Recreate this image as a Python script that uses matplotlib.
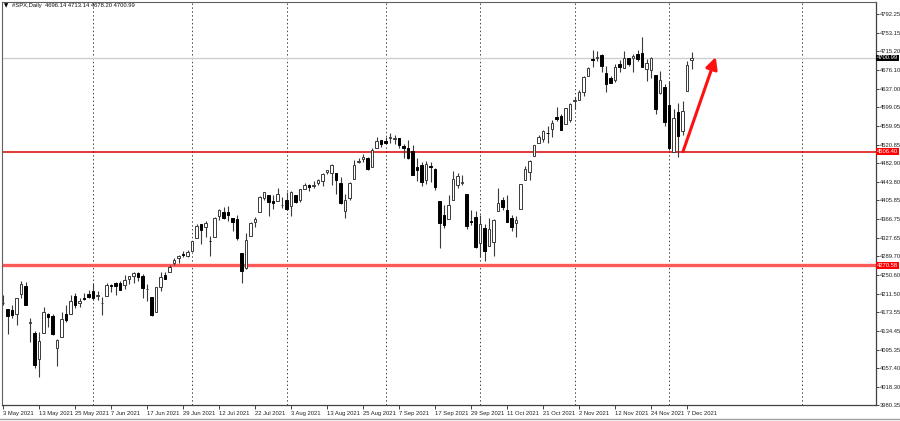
import matplotlib
matplotlib.use("Agg")
import matplotlib.pyplot as plt
import numpy as np
import pandas as pd

plt.rcParams['font.family'] = ['Liberation Sans', 'DejaVu Sans']

# ---------------- data ----------------
holidays = ["2021-05-31", "2021-07-05", "2021-09-06", "2021-11-25"]
dates = [d for d in pd.bdate_range("2021-05-03", "2021-12-08") if d.strftime("%Y-%m-%d") not in holidays]

opens = [4191.98, 4179.04, 4177.06, 4169.14, 4210.34, 4228.29, 4150.34, 4130.55, 4074.99, 4129.58,
         4169.92, 4165.94, 4098.45, 4121.97, 4168.61, 4170.16, 4205.94, 4191.59, 4201.94, 4210.77,
         4216.52, 4206.82, 4191.43, 4206.05, 4229.34, 4233.81, 4232.99, 4228.56, 4242.90, 4248.31,
         4255.28, 4248.87, 4220.37, 4204.78, 4173.40, 4224.61, 4249.27, 4256.97, 4274.45, 4284.90,
         4293.21, 4290.65,
         4300.73, 4326.60, 4356.46, 4351.01, 4321.07, 4329.38, 4372.41, 4381.07, 4380.11, 4369.02,
         4367.43, 4296.40, 4265.11, 4331.13, 4361.27, 4381.20, 4409.58, 4416.38, 4402.95, 4403.59,
         4395.12,
         4406.86, 4392.74, 4415.95, 4405.89, 4429.07, 4437.77, 4435.79, 4442.18, 4446.08, 4464.84,
         4461.65, 4462.12, 4440.94, 4382.44, 4410.56, 4450.29, 4484.40, 4490.45, 4493.75, 4474.10,
         4513.76, 4529.75,
         4528.80, 4534.48, 4532.42, 4535.38, 4518.09, 4513.02, 4506.92, 4474.81, 4479.33, 4447.49,
         4477.09, 4469.74, 4402.95, 4374.45, 4367.43, 4406.75, 4438.04, 4442.12, 4419.54, 4362.41,
         4370.67,
         4317.16, 4348.84, 4309.87, 4319.57, 4383.73, 4406.51, 4385.44, 4368.31, 4358.01, 4386.75,
         4447.69, 4463.72, 4497.34, 4524.42, 4532.24, 4546.12, 4553.69, 4578.69, 4580.22, 4562.84,
         4572.87,
         4610.62, 4613.34, 4630.65, 4662.93, 4699.26, 4701.48, 4707.25, 4670.26, 4659.39, 4655.24,
         4689.30, 4679.42, 4701.50, 4700.72, 4708.44, 4712.00, 4678.48, 4675.78, 4664.63, 4628.75,
         4640.25,
         4602.82, 4504.73, 4589.49, 4548.37, 4631.97, 4696.14]

highs = [4209.39, 4179.04, 4187.72, 4202.70, 4238.04, 4236.39, 4162.04, 4134.73, 4131.58, 4183.13,
         4171.92, 4169.15, 4116.93, 4172.80, 4188.72, 4209.52, 4213.42, 4202.61, 4213.38, 4218.36,
         4234.12, 4217.37, 4204.39, 4233.45, 4232.34, 4236.74, 4237.09, 4249.74, 4248.38, 4255.59,
         4257.16, 4251.89, 4232.29, 4204.78, 4226.24, 4255.84, 4256.60, 4271.28, 4286.12, 4292.14,
         4300.52, 4302.43,
         4320.66, 4355.43, 4356.46, 4361.88, 4330.88, 4371.60, 4386.68, 4392.37, 4393.68, 4369.02,
         4375.09, 4296.40, 4336.84, 4359.70, 4369.87, 4415.18, 4422.73, 4416.38, 4415.47, 4429.97,
         4412.25,
         4422.18, 4423.79, 4416.17, 4429.76, 4440.82, 4439.39, 4445.21, 4449.44, 4461.77, 4468.37,
         4480.26, 4462.12, 4454.32, 4418.61, 4444.35, 4489.88, 4492.81, 4501.71, 4495.90, 4513.33,
         4537.36, 4531.39,
         4537.11, 4545.85, 4541.45, 4535.38, 4521.79, 4529.90, 4520.47, 4492.99, 4485.68, 4486.87,
         4485.87, 4471.52, 4402.95, 4394.87, 4416.75, 4465.40, 4463.12, 4457.30, 4419.54, 4385.57,
         4382.55,
         4375.19, 4355.51, 4369.23, 4365.57, 4429.97, 4412.02, 4415.88, 4374.89, 4372.87, 4439.73,
         4475.82, 4488.75, 4520.40, 4540.87, 4551.44, 4559.67, 4572.62, 4598.53, 4584.57, 4597.55,
         4608.08,
         4620.34, 4635.15, 4663.46, 4683.00, 4718.50, 4714.92, 4708.53, 4684.85, 4664.55, 4688.47,
         4697.42, 4714.95, 4701.50, 4708.80, 4717.75, 4743.83, 4699.39, 4702.87, 4664.63, 4672.95,
         4646.02,
         4652.94, 4595.46, 4608.03, 4612.60, 4694.04, 4713.14]

lows = [4188.03, 4128.59, 4160.94, 4147.33, 4201.64, 4188.13, 4111.53, 4056.88, 4038.00, 4129.58,
        4142.69, 4125.99, 4061.41, 4121.97, 4151.72, 4170.16, 4182.52, 4184.11, 4197.78, 4203.57,
        4197.59, 4198.27, 4167.93, 4206.05, 4215.66, 4208.41, 4218.74, 4220.34, 4232.25, 4234.07,
        4238.35, 4202.45, 4196.05, 4164.40, 4173.40, 4217.27, 4241.43, 4256.97, 4271.16, 4274.67,
        4287.04, 4287.96,
        4300.73, 4326.60, 4314.37, 4329.79, 4289.37, 4329.38, 4364.03, 4366.92, 4362.36, 4340.70,
        4322.53, 4233.13, 4262.05, 4331.13, 4350.06, 4381.20, 4405.45, 4372.51, 4387.01, 4403.59,
        4389.65,
        4384.81, 4373.00, 4400.23, 4401.60, 4429.07, 4424.74, 4430.03, 4436.42, 4435.96, 4460.82,
        4437.66, 4417.83, 4397.59, 4367.73, 4406.80, 4450.29, 4482.28, 4485.66, 4468.99, 4474.10,
        4513.76, 4515.80,
        4522.02, 4524.66, 4521.65, 4513.00, 4493.95, 4492.07, 4457.66, 4445.70, 4435.46, 4438.37,
        4443.80, 4427.76, 4305.91, 4347.96, 4367.43, 4406.75, 4430.27, 4436.19, 4346.33, 4355.08,
        4306.24,
        4288.52, 4278.94, 4309.87, 4290.49, 4383.73, 4386.22, 4360.59, 4342.09, 4329.92, 4386.75,
        4447.69, 4447.47, 4496.41, 4524.40, 4526.89, 4524.00, 4537.36, 4569.17, 4551.66, 4562.84,
        4567.59,
        4595.06, 4613.34, 4621.19, 4662.59, 4681.32, 4694.39, 4670.87, 4630.86, 4648.31, 4650.77,
        4672.86, 4679.42, 4684.41, 4672.78, 4694.22, 4682.17, 4652.66, 4659.89, 4585.43, 4625.26,
        4560.00,
        4510.27, 4504.73, 4495.12, 4540.51, 4631.97, 4678.20]

closes = [4192.66, 4164.66, 4167.59, 4201.62, 4232.60, 4188.43, 4152.10, 4063.04, 4112.50, 4173.85,
          4163.29, 4127.83, 4115.68, 4159.12, 4155.86, 4197.05, 4188.13, 4195.99, 4200.88, 4204.11,
          4202.04, 4208.12, 4192.85, 4229.89, 4226.52, 4227.26, 4219.55, 4239.18, 4247.44, 4255.15,
          4246.59, 4223.70, 4221.86, 4166.45, 4224.79, 4246.44, 4241.84, 4266.49, 4280.70, 4290.61,
          4291.80, 4297.50,
          4319.94, 4352.34, 4343.54, 4358.13, 4320.82, 4369.55, 4384.63, 4369.21, 4374.30, 4360.03,
          4327.16, 4258.49, 4323.06, 4358.69, 4367.48, 4411.79, 4422.30, 4401.46, 4400.64, 4419.15,
          4395.26,
          4387.16, 4423.15, 4402.66, 4429.10, 4436.52, 4432.35, 4436.75, 4447.70, 4460.83, 4468.00,
          4479.71, 4448.08, 4400.27, 4405.80, 4441.67, 4479.53, 4486.23, 4496.19, 4470.00, 4509.37,
          4528.79, 4522.68,
          4524.09, 4536.95, 4535.43, 4520.03, 4514.07, 4493.28, 4458.58, 4468.73, 4443.05, 4480.70,
          4473.75, 4432.99, 4357.73, 4354.19, 4395.64, 4448.98, 4455.48, 4443.11, 4352.63, 4359.46,
          4307.54,
          4357.04, 4300.46, 4345.72, 4363.55, 4399.76, 4391.34, 4361.19, 4350.65, 4363.80, 4438.26,
          4471.37, 4486.46, 4519.63, 4536.19, 4549.78, 4544.90, 4566.48, 4574.79, 4551.68, 4596.42,
          4605.38,
          4613.67, 4630.65, 4660.57, 4680.06, 4697.53, 4701.70, 4685.25, 4646.71, 4649.27, 4682.85,
          4682.80, 4700.90, 4688.67, 4704.54, 4697.96, 4682.94, 4690.70, 4701.46, 4594.62, 4655.27,
          4567.00,
          4513.04, 4577.10, 4538.43, 4591.67, 4686.75, 4700.99]

price_ticks = [4792.25, 4753.15, 4715.20, 4676.10, 4637.00, 4599.05, 4559.95, 4520.85, 4482.90,
               4443.80, 4405.85, 4366.75, 4327.65, 4289.70, 4250.60, 4211.50, 4173.55, 4134.45,
               4095.35, 4057.40, 4018.30, 3980.35]
y_top = 4817.2
support_upper = 4506.40
support_lower = 4270.58
last_price = 4700.99
title_text = "#SPX,Daily  4696.14 4713.14 4678.20 4700.99"
label_step = 8
future_grid_index = 177.6
arrow_start = (151.1, 4506.4)
arrow_end = (158.4, 4703.0)

# ---------------- figure ----------------
W, H = 900, 421
FS = 4.2
fig = plt.figure(figsize=(W / 100, H / 100), dpi=100)
fig.patch.set_facecolor("white")
px_l, px_r, px_t, px_b = 2, 876, 2, 405
ax = fig.add_axes([px_l / W, (H - px_b) / H, (px_r - px_l) / W, (px_b - px_t) / H])
ax.set_facecolor("white")

n = len(closes)
x = np.arange(n)
o = np.array(opens); h = np.array(highs); l = np.array(lows); c = np.array(closes)

ax.set_xlim((px_l - 3) / 4.5, (px_r - 3) / 4.5)
ax.set_ylim(price_ticks[-1], y_top)

# vertical dotted grid at month starts
months = [d.month for d in dates]
grid_idx = [i for i in range(1, n) if months[i] != months[i - 1]] + [future_grid_index]
for gi in grid_idx:
    ax.axvline(gi, color="#444444", lw=0.7, ls=(0, (1.5, 2.5)), zorder=1)

# horizontal lines
ax.axhline(last_price, color="#d0d0d0", lw=1.0, zorder=1)
ax.axhline(support_upper, color="#dd0000", lw=1.1, zorder=2)
ax.axhline(support_lower, color="#ff5a5a", lw=2.4, zorder=2)

# candles
ax.vlines(x, l, h, color="#3a3a3a", lw=0.8, zorder=3)
up = c >= o
bw = 0.62
ax.bar(x[up], np.maximum(c[up] - o[up], 0.8), bottom=o[up], width=bw,
       facecolor="white", edgecolor="#3a3a3a", linewidth=0.7, zorder=4)
ax.bar(x[~up], o[~up] - c[~up], bottom=c[~up], width=bw,
       facecolor="black", edgecolor="black", linewidth=0.7, zorder=4)

# arrow
ax.annotate("", xy=arrow_end, xytext=arrow_start,
            arrowprops=dict(arrowstyle="-|>,head_length=0.7,head_width=0.35",
                            color="#ff1010", lw=2.2, shrinkA=0, shrinkB=0), zorder=6)

# axes spines
for s in ["left", "top"]:
    ax.spines[s].set_color("#606060"); ax.spines[s].set_linewidth(0.8)
for s in ["right", "bottom"]:
    ax.spines[s].set_color("#404040"); ax.spines[s].set_linewidth(0.9)

# right price axis
ax.yaxis.tick_right()
ax.set_yticks(price_ticks)
ax.set_yticklabels([f"{v:.2f}" for v in price_ticks])
ax.tick_params(axis="y", direction="out", length=2.2, width=0.6, colors="#222222",
               labelsize=FS, pad=0.6)

# x labels
xt = list(range(0, n, label_step))
ax.set_xticks(xt)
ax.set_xticklabels([f"{dates[i].day} {dates[i].strftime('%b %Y')}" for i in xt],
                   ha="left")
ax.tick_params(axis="x", direction="out", length=3, width=0.6, colors="#222222",
               labelsize=FS, pad=1.2)

# price boxes on the right axis
def price_box(val, fc):
    ax.text(1.0012, val, f"{val:.2f}", transform=ax.get_yaxis_transform(),
            fontsize=FS, color="white", va="center", ha="left", zorder=10,
            bbox=dict(boxstyle="square,pad=0.15", fc=fc, ec="none"), clip_on=False)

price_box(last_price, "black")
price_box(support_upper, "#ff0000")
price_box(support_lower, "#ff0000")

# title
fig.text(4 / W, 1 - 5.5 / H, "\u25bc", fontsize=4, color="black", va="center", ha="left",
         family="DejaVu Sans")
fig.text(12 / W, 1 - 5.5 / H, title_text, fontsize=FS, color="#111111", va="center", ha="left")

# bottom frame line
fig.add_artist(plt.Line2D([0, 1], [2.5 / H, 2.5 / H], color="#a0a0a0", lw=1.0))

fig.savefig("out.png", dpi=100, facecolor="white")
